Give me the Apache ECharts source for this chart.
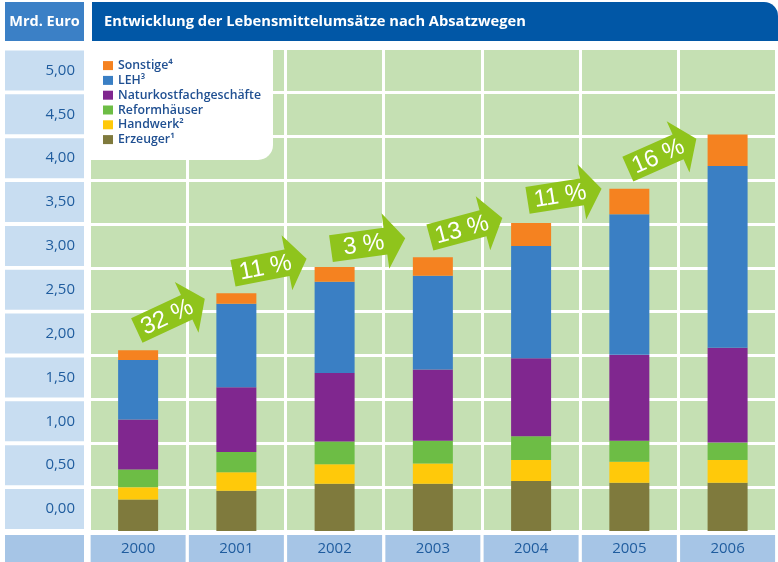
<!DOCTYPE html>
<html>
<head>
<meta charset="utf-8">
<script src="https://cdn.jsdelivr.net/npm/echarts@6/dist/echarts.min.js"></script>
<style>
html,body{margin:0;padding:0;background:#fff;}
#chart{width:778px;height:562px;}
</style>
</head>
<body>
<div id="chart"></div>
<script>
// ---- data ----
const years = ['2000', '2001', '2002', '2003', '2004', '2005', '2006'];
const erzeuger = [0.36, 0.46, 0.54, 0.54, 0.57, 0.55, 0.55];
const handwerk = [0.14, 0.21, 0.22, 0.23, 0.24, 0.24, 0.26];
const reformhaeuser = [0.20, 0.23, 0.26, 0.26, 0.27, 0.24, 0.20];
const naturkost = [0.57, 0.74, 0.78, 0.81, 0.89, 0.98, 1.08];
const leh = [0.68, 0.95, 1.04, 1.07, 1.28, 1.60, 2.07];
const sonstige = [0.11, 0.12, 0.17, 0.21, 0.26, 0.29, 0.36];
const yTickLabels = ['0,00', '0,50', '1,00', '1,50', '2,00', '2,50', '3,00', '3,50', '4,00', '4,50', '5,00'];
const growthLabels = ['32 %', '11 %', '3 %', '13 %', '11 %', '16 %'];
const arrowTiltDeg = [25, 11, 8, 15, 9, 24];

const seriesNames = ['Erzeuger\u00B9', 'Handwerk\u00B2', 'Reformhäuser', 'Naturkostfachgeschäfte', 'LEH\u00B3', 'Sonstige\u2074'];
const seriesData = [erzeuger, handwerk, reformhaeuser, naturkost, leh, sonstige];
const seriesColors = ['#7f7a3d', '#ffc90a', '#6dbd45', '#80278f', '#3a7fc4', '#f58220'];

const totals = years.map((_, i) => seriesData.reduce((s, arr) => s + arr[i], 0));
// arrows sit just above the bar they start from, rising toward the next one
const arrowData = growthLabels.map((g, i) => [i, totals[i] + 0.2 * (totals[i + 1] - totals[i]) + 0.23, arrowTiltDeg[i]]);

const FONT = '"Open Sans", "Noto Sans", sans-serif';
const chart = echarts.init(document.getElementById('chart'), null, {renderer: 'canvas'});

const barSeries = seriesNames.map((name, k) => ({
  name: name,
  type: 'bar',
  stack: 'total',
  barWidth: 40,
  xAxisIndex: 0,
  yAxisIndex: 0,
  itemStyle: {color: seriesColors[k]},
  emphasis: {disabled: true},
  data: seriesData[k]
}));

const arrowSeries = {
  type: 'custom',
  xAxisIndex: 0,
  yAxisIndex: 0,
  z: 5,
  silent: true,
  data: arrowData,
  renderItem: function (params, api) {
    const c = api.coord([api.value(0), api.value(1)]);
    const bw = api.size([1, 0])[0];
    const rot = api.value(2) * Math.PI / 180;
    return {
      type: 'group',
      x: c[0] + bw * 0.245,
      y: c[1],
      rotation: rot,
      children: [
        {
          type: 'polygon',
          shape: {points: [[-28, -13.5], [27, -13.5], [27, -28], [47, 0], [27, 28], [27, 13.5], [-28, 13.5]]},
          style: {fill: '#8fc41c'}
        },
        {
          type: 'text',
          x: 5,
          y: 1,
          style: {
            text: growthLabels[params.dataIndex],
            fill: '#ffffff',
            font: '24px "Liberation Sans", Arial, sans-serif',
            align: 'center',
            verticalAlign: 'middle'
          }
        }
      ]
    };
  }
};

const option = {
  animation: false,
  backgroundColor: '#ffffff',
  grid: {
    left: 89, right: 0, top: 48.5, bottom: 30.7,
    show: true, backgroundColor: '#c5e0b3', borderWidth: 0
  },
  legend: {
    orient: 'vertical',
    left: 103, top: 58.5,
    padding: 0,
    itemWidth: 10, itemHeight: 9, itemGap: 0.6,
    icon: 'rect',
    z: 10,
    selectedMode: false,
    data: seriesNames.slice().reverse(),
    textStyle: {color: '#1f4f91', fontSize: 12.3, fontWeight: 600, fontFamily: FONT, lineHeight: 14.2}
  },
  xAxis: {
    type: 'category',
    data: years,
    boundaryGap: true,
    axisLine: {show: false},
    axisTick: {show: false},
    splitLine: {show: true, interval: 0, lineStyle: {color: '#ffffff', width: 3}},
    axisLabel: {
      interval: 0, margin: 4,
      color: '#1f5c9e', fontSize: 15, fontFamily: FONT,
      backgroundColor: '#a6c5e6',
      width: 95, height: 27, lineHeight: 27, align: 'center'
    }
  },
  yAxis: [
    {
      type: 'value', min: 0, max: 5.5, interval: 0.5,
      axisLine: {show: false}, axisTick: {show: false},
      axisLabel: {show: false},
      splitLine: {show: true, lineStyle: {color: '#ffffff', width: 3}}
    },
    {
      type: 'category', data: yTickLabels, boundaryGap: true, position: 'left',
      axisLine: {show: false}, axisTick: {show: false}, splitLine: {show: false},
      axisLabel: {
        interval: 0, margin: 5,
        color: '#1f5c9e', fontSize: 15, fontFamily: FONT,
        backgroundColor: '#c8ddf1',
        width: 70, height: 40, lineHeight: 40, align: 'right',
        padding: [0, 9, 0, 0]
      }
    }
  ],
  graphic: [
    {type: 'rect', z: 3, shape: {x: 89, y: 47, width: 184, height: 113, r: [0, 0, 15, 0]}, style: {fill: '#ffffff'}},
    {type: 'rect', z: 3, shape: {x: 5, y: 2, width: 79, height: 39}, style: {fill: '#3b80c6'}},
    {type: 'rect', z: 3, shape: {x: 92, y: 2, width: 686, height: 39, r: [0, 14, 0, 0]}, style: {fill: '#0157a6'}},
    {type: 'rect', z: 3, shape: {x: 5, y: 535, width: 79, height: 27}, style: {fill: '#a6c5e6'}},
    {type: 'text', z: 4, x: 44.5, y: 22, style: {text: 'Mrd. Euro', fill: '#ffffff', font: 'bold 14.5px ' + FONT, align: 'center', verticalAlign: 'middle'}},
    {type: 'text', z: 4, x: 104, y: 22, style: {text: 'Entwicklung der Lebensmittelumsätze nach Absatzwegen', fill: '#ffffff', font: 'bold 14.7px ' + FONT, align: 'left', verticalAlign: 'middle'}}
  ],
  series: barSeries.concat([arrowSeries])
};
chart.setOption(option);
</script>
</body>
</html>
